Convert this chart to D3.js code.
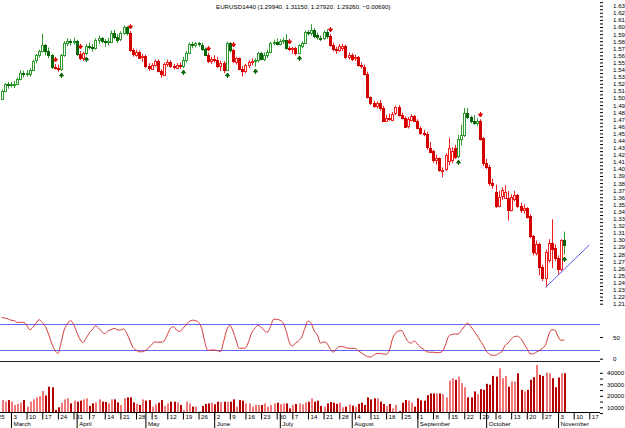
<!DOCTYPE html>
<meta charset="utf-8">
<title>EURUSD1440</title>
<body style="margin:0;background:#fff;">
<div id="chart"></div>
<script src="https://d3js.org/d3.v7.min.js"></script>
<script>
// daily bars, 27 Feb 2008 .. 5 Nov 2008 (weekdays)
const open = [1.4985,1.5095,1.5190,1.5180,1.5190,1.5195,1.5265,1.5355,1.5345,1.5350,
  1.5400,1.5525,1.5600,1.5660,1.5740,1.5660,1.5600,1.5430,1.5420,1.5400,
  1.5600,1.5770,1.5800,1.5790,1.5800,1.5620,1.5560,1.5630,1.5730,1.5720,
  1.5700,1.5810,1.5840,1.5800,1.5780,1.5800,1.5920,1.5860,1.5820,1.5910,
  1.6000,1.5910,1.5670,1.5610,1.5650,1.5570,1.5590,1.5450,1.5420,1.5470,
  1.5520,1.5375,1.5330,1.5480,1.5510,1.5450,1.5430,1.5470,1.5450,1.5540,
  1.5640,1.5760,1.5740,1.5770,1.5750,1.5690,1.5610,1.5520,1.5550,1.5530,
  1.5450,1.5490,1.5390,1.5770,1.5670,1.5510,1.5560,1.5410,1.5380,1.5460,
  1.5500,1.5520,1.5530,1.5630,1.5550,1.5610,1.5650,1.5770,1.5790,1.5760,
  1.5800,1.5810,1.5700,1.5680,1.5700,1.5630,1.5740,1.5780,1.5930,1.5920,
  1.5960,1.5880,1.5850,1.5840,1.5930,1.5870,1.5740,1.5690,1.5670,1.5700,
  1.5730,1.5570,1.5600,1.5550,1.5570,1.5460,1.5440,1.5340,1.5010,1.4930,
  1.4890,1.4930,1.4860,1.4680,1.4720,1.4700,1.4780,1.4870,1.4760,1.4720,
  1.4600,1.4700,1.4750,1.4680,1.4580,1.4510,1.4490,1.4300,1.4250,1.4120,
  1.4150,1.3980,1.3990,1.4100,1.4120,1.4300,1.4180,1.4420,1.4480,1.4790,
  1.4730,1.4680,1.4650,1.4680,1.4430,1.4080,1.4030,1.3800,1.3680,1.3480,
  1.3610,1.3600,1.3590,1.3420,1.3580,1.3630,1.3480,1.3420,1.3450,1.3330,
  1.3050,1.2820,1.2940,1.2620,1.2470,1.2720,1.2950,1.2880,1.2740,1.2580,
  1.2994];
const high = [1.5118,1.5210,1.5225,1.5225,1.5240,1.5290,1.5390,1.5385,1.5390,1.5420,
  1.5540,1.5620,1.5680,1.5905,1.5760,1.5710,1.5620,1.5480,1.5470,1.5620,
  1.5800,1.5840,1.5830,1.5850,1.5820,1.5660,1.5650,1.5760,1.5780,1.5760,
  1.5840,1.5880,1.5860,1.5830,1.5850,1.5950,1.5960,1.5900,1.5940,1.6020,
  1.6010,1.5945,1.5700,1.5680,1.5670,1.5620,1.5610,1.5490,1.5490,1.5540,
  1.5540,1.5405,1.5500,1.5540,1.5530,1.5480,1.5490,1.5500,1.5580,1.5660,
  1.5780,1.5790,1.5790,1.5790,1.5780,1.5710,1.5640,1.5580,1.5600,1.5580,
  1.5520,1.5520,1.5790,1.5790,1.5690,1.5580,1.5570,1.5450,1.5480,1.5530,
  1.5560,1.5560,1.5650,1.5650,1.5640,1.5680,1.5790,1.5820,1.5840,1.5830,
  1.5850,1.5900,1.5730,1.5720,1.5720,1.5760,1.5800,1.5950,1.5960,1.6038,
  1.5980,1.5920,1.5880,1.5950,1.5970,1.5900,1.5780,1.5720,1.5760,1.5760,
  1.5750,1.5640,1.5630,1.5610,1.5590,1.5500,1.5470,1.5370,1.5020,1.4960,
  1.4950,1.4970,1.4890,1.4760,1.4780,1.4800,1.4890,1.4900,1.4790,1.4740,
  1.4730,1.4770,1.4760,1.4700,1.4600,1.4550,1.4520,1.4380,1.4270,1.4200,
  1.4160,1.4020,1.4220,1.4440,1.4310,1.4340,1.4480,1.4620,1.4860,1.4860,
  1.4750,1.4760,1.4710,1.4700,1.4450,1.4140,1.4060,1.3860,1.3780,1.3690,
  1.3740,1.3770,1.3690,1.3640,1.3690,1.3650,1.3520,1.3500,1.3460,1.3360,
  1.3070,1.2990,1.2960,1.2650,1.2860,1.3010,1.3290,1.2940,1.2780,1.3010,
  1.3115];
const low = [1.4975,1.5080,1.5130,1.5150,1.5140,1.5180,1.5250,1.5290,1.5300,1.5300,
  1.5390,1.5490,1.5570,1.5640,1.5600,1.5560,1.5410,1.5400,1.5370,1.5380,
  1.5580,1.5730,1.5740,1.5750,1.5590,1.5530,1.5520,1.5600,1.5680,1.5650,
  1.5680,1.5760,1.5770,1.5720,1.5740,1.5790,1.5830,1.5780,1.5800,1.5890,
  1.5880,1.5650,1.5580,1.5580,1.5550,1.5510,1.5420,1.5380,1.5400,1.5440,
  1.5360,1.5285,1.5320,1.5440,1.5420,1.5400,1.5420,1.5410,1.5420,1.5500,
  1.5620,1.5700,1.5710,1.5720,1.5660,1.5590,1.5490,1.5480,1.5500,1.5420,
  1.5380,1.5350,1.5380,1.5640,1.5490,1.5470,1.5390,1.5300,1.5350,1.5420,
  1.5460,1.5440,1.5500,1.5530,1.5520,1.5560,1.5630,1.5740,1.5740,1.5740,
  1.5760,1.5680,1.5660,1.5620,1.5600,1.5620,1.5700,1.5760,1.5880,1.5880,
  1.5840,1.5820,1.5800,1.5820,1.5830,1.5720,1.5660,1.5620,1.5650,1.5660,
  1.5550,1.5540,1.5520,1.5520,1.5440,1.5410,1.5320,1.4990,1.4900,1.4860,
  1.4850,1.4820,1.4660,1.4660,1.4680,1.4690,1.4760,1.4740,1.4700,1.4580,
  1.4570,1.4670,1.4660,1.4560,1.4480,1.4460,1.4270,1.4220,1.4090,1.4060,
  1.3960,1.3880,1.3970,1.4050,1.4080,1.4140,1.4150,1.4330,1.4450,1.4700,
  1.4640,1.4620,1.4600,1.4400,1.4040,1.4000,1.3760,1.3720,1.3450,1.3460,
  1.3560,1.3580,1.3270,1.3400,1.3540,1.3450,1.3380,1.3370,1.3300,1.3020,
  1.2780,1.2780,1.2500,1.2420,1.2330,1.2680,1.2600,1.2700,1.2510,1.2560,
  1.2792];
const close = [1.5095,1.5190,1.5180,1.5190,1.5195,1.5265,1.5355,1.5345,1.5350,1.5400,
  1.5525,1.5600,1.5660,1.5740,1.5660,1.5600,1.5430,1.5420,1.5400,1.5600,
  1.5770,1.5800,1.5790,1.5800,1.5620,1.5560,1.5630,1.5730,1.5720,1.5700,
  1.5810,1.5840,1.5800,1.5780,1.5800,1.5920,1.5860,1.5820,1.5910,1.6000,
  1.5910,1.5670,1.5610,1.5650,1.5570,1.5590,1.5450,1.5420,1.5470,1.5520,
  1.5380,1.5330,1.5480,1.5510,1.5450,1.5430,1.5470,1.5450,1.5540,1.5640,
  1.5760,1.5740,1.5770,1.5750,1.5690,1.5610,1.5520,1.5550,1.5530,1.5450,
  1.5490,1.5390,1.5770,1.5670,1.5510,1.5560,1.5410,1.5380,1.5460,1.5500,
  1.5520,1.5530,1.5630,1.5550,1.5610,1.5650,1.5770,1.5790,1.5760,1.5800,
  1.5810,1.5700,1.5680,1.5700,1.5630,1.5740,1.5780,1.5930,1.5920,1.5960,
  1.5880,1.5850,1.5840,1.5930,1.5870,1.5740,1.5690,1.5670,1.5730,1.5730,
  1.5570,1.5600,1.5550,1.5570,1.5460,1.5440,1.5340,1.5010,1.4930,1.4890,
  1.4930,1.4860,1.4680,1.4720,1.4700,1.4780,1.4870,1.4760,1.4720,1.4600,
  1.4700,1.4750,1.4680,1.4580,1.4510,1.4490,1.4300,1.4250,1.4120,1.4150,
  1.3980,1.3990,1.4190,1.4290,1.4250,1.4180,1.4420,1.4480,1.4790,1.4730,
  1.4680,1.4650,1.4680,1.4430,1.4080,1.4030,1.3800,1.3770,1.3480,1.3610,
  1.3700,1.3680,1.3420,1.3600,1.3630,1.3480,1.3420,1.3450,1.3330,1.3050,
  1.2820,1.2940,1.2620,1.2470,1.2830,1.2960,1.2860,1.2740,1.2580,1.2995,
  1.2926];
const volume = [16300,14900,16300,14900,12000,12900,14000,16300,10600,14900,
  16900,18600,19800,24200,20300,27900,27300,7700,10000,14000,
  16900,17800,13400,15800,14900,15800,16900,17800,11200,13400,
  14300,16900,14900,14600,13400,16900,16900,14300,12000,17800,
  18600,18600,14300,12900,12000,16900,15800,16300,10600,12600,
  14000,16300,11200,13400,14900,14900,14300,12000,7700,14900,
  13400,10600,10600,6200,11200,12900,13400,14000,12600,14900,
  14600,14900,14900,14900,16900,10600,16300,15800,13400,13400,
  10600,12000,12000,12000,13400,10600,12000,13400,14000,12900,
  13400,13400,9100,12000,12900,13400,12600,14300,14900,17800,
  14900,15800,11200,10600,13400,14600,14000,13000,14000,10000,
  10600,12600,11400,10600,13000,14000,12000,18600,16900,17800,
  17800,14900,12900,11200,12900,9100,12000,6800,14000,16300,
  15800,14000,10600,17800,16000,15800,20600,22100,22100,22100,
  22100,21500,18600,33300,35300,33900,36700,31000,27500,18600,
  18600,23800,21500,25800,25200,30400,29600,37300,36700,43900,
  35300,37300,27900,32400,32400,39600,25200,23800,25200,33900,
  36200,46800,38200,37300,40200,39600,35300,27500,35900,39600,
  39600];
const stoch = [95,94,92,89,88,84,84,84,78,67,72,82,90,84,74,57,36,20,12,36,
  66,80,88,80,62,46,37,47,59,67,76,71,63,58,64,67,70,67,66,69,
  59,43,26,20,16,16,19,25,32,39,38,38,41,55,70,74,66,63,70,78,
  86,89,88,84,70,39,19,20,20,19,16,39,66,77,64,43,24,24,25,39,
  60,70,77,73,65,61,74,91,91,89,83,65,39,29,36,41,50,70,87,82,
  64,55,36,39,36,24,15,22,28,28,26,24,24,24,19,14,9,5,4,8,
  12,12,11,10,18,45,59,64,65,52,40,36,41,34,26,22,16,15,15,14,
  14,17,32,52,56,57,57,65,74,82,75,65,55,43,32,18,11,8,8,12,
  16,30,36,45,51,52,47,36,24,12,11,15,19,24,32,55,67,66,51,42,
  44];
// trend signals (bar index)
const upSignals = [19, 27, 58, 72, 81, 95, 146, 180];
const downSignals = [17, 25, 41, 66, 74, 92, 105, 153];
// hand drawn trend line: bar index, price
const trendIdx = [174, 188];
const trendPrice = [1.2330, 1.2927];
// axis labels
const priceTicks = d3.range(121, 164).map(v => v / 100);
const stochTicks = [0, 50];
const volTicks = [10000, 20000, 30000, 40000];

const W = 625, H = 428, AX = 600;
const svg = d3.select("#chart").append("svg")
  .attr("width", W).attr("height", H)
  .style("display", "block")
  .style("font-family", "'Liberation Sans', Arial, sans-serif");

// scales
const x = d3.scaleLinear().domain([0, 180]).range([1.6, 564.3]);
const y = d3.scaleLinear().domain([1.21, 1.63]).range([303.7, 5.7]);
const yS = d3.scaleLinear().domain([0, 100]).range([358.7, 315.4]);
const yV = d3.scaleLinear().domain([0, 40000]).range([418.8, 372.8]);
const px = i => Math.round(x(i));

// trend phase for each bar from the signals
const signals = upSignals.map(i => ({i, t: "up"}))
  .concat(downSignals.map(i => ({i, t: "down"})))
  .sort((a, b) => a.i - b.i);
const phase = close.map((c, i) => {
  let p = "up";
  signals.forEach(s => { if (s.i <= i) p = s.t; });
  return p;
});
const col = {
  up: {line: "#2f9a2f", fill: "#0a640a"},
  down: {line: "#f02020", fill: "#d20000"}
};

// title
svg.append("text")
  .attr("x", 216).attr("y", 8.5)
  .attr("font-size", 6.2).attr("fill", "#000")
  .text("EURUSD1440 (" + [open[180], high[180], low[180], close[180], close[180] - close[179]]
    .map(d3.format(".5f")).join(", ") + ")");

// candles
const bars = svg.append("g").selectAll("g").data(close).join("g");
bars.append("line")
  .attr("x1", (d, i) => px(i) + 0.5).attr("x2", (d, i) => px(i) + 0.5)
  .attr("y1", (d, i) => y(high[i])).attr("y2", (d, i) => y(low[i]))
  .attr("stroke", (d, i) => col[phase[i]].line).attr("stroke-width", 1);
bars.append("rect")
  .attr("x", (d, i) => px(i) - 0.5)
  .attr("y", (d, i) => Math.round(y(Math.max(open[i], close[i]))) + 0.5)
  .attr("width", 2)
  .attr("height", (d, i) => Math.max(1, Math.round(y(Math.min(open[i], close[i])) - y(Math.max(open[i], close[i])))))
  .attr("fill", (d, i) => close[i] >= open[i] ? "#fff" : col[phase[i]].fill)
  .attr("stroke", (d, i) => close[i] >= open[i] ? col[phase[i]].line : col[phase[i]].fill)
  .attr("stroke-width", 1);

// signal arrows
const arrow = (cx, tip, dir) =>
  `M${cx},${tip}L${cx - 2},${tip + 3 * dir}L${cx + 2},${tip + 3 * dir}Z M${cx},${tip + 2 * dir}L${cx},${tip + 5 * dir}`;
svg.append("g").selectAll("path").data(upSignals).join("path")
  .attr("d", i => arrow(px(i) + 0.5, Math.round(y(low[i])) + 2, 1))
  .attr("fill", "#0a640a").attr("stroke", "#0a640a").attr("stroke-width", 1);
svg.append("g").selectAll("path").data(downSignals).join("path")
  .attr("d", i => arrow(px(i) + 0.5, Math.round(y(high[i])) - 2, -1))
  .attr("fill", "#e00000").attr("stroke", "#e00000").attr("stroke-width", 1);

// trend line
svg.append("line")
  .attr("x1", x(trendIdx[0])).attr("y1", y(trendPrice[0]))
  .attr("x2", x(trendIdx[1])).attr("y2", y(trendPrice[1]))
  .attr("stroke", "#5a5af0").attr("stroke-width", 1);

// right price axis
svg.append("g").attr("transform", `translate(${AX},0)`)
  .call(d3.axisRight(y).tickValues(priceTicks).tickFormat(d3.format(".2f")).tickSize(3).tickPadding(10));
svg.append("g").attr("transform", `translate(${AX},0)`)
  .call(d3.axisRight(y).tickValues(priceTicks.map(v => v + 0.005)).tickFormat("").tickSize(3));

// stochastic panel
[80, 20].forEach(v => svg.append("line")
  .attr("x1", 0).attr("x2", AX).attr("y1", Math.round(yS(v)) + 0.5).attr("y2", Math.round(yS(v)) + 0.5)
  .attr("stroke", "#6464f0").attr("stroke-width", 1));
svg.append("path").datum(stoch)
  .attr("d", d3.line().x((d, i) => x(i)).y(d => yS(d)).curve(d3.curveMonotoneX))
  .attr("fill", "none").attr("stroke", "#d43a3a").attr("stroke-width", 1);
svg.append("g").attr("transform", `translate(${AX},0)`)
  .call(d3.axisRight(yS).tickValues(stochTicks).tickSize(3).tickPadding(10));
svg.append("line").attr("x1", 0).attr("x2", AX).attr("y1", 361.5).attr("y2", 361.5)
  .attr("stroke", "#222").attr("stroke-width", 1);

// volume panel
svg.append("g").selectAll("rect").data(volume).join("rect")
  .attr("x", (d, i) => px(i))
  .attr("y", d => Math.min(yV(d), 413))
  .attr("width", 2)
  .attr("height", d => Math.max(0, 413 - yV(d)))
  .attr("fill", (d, i) => close[i] >= open[i] ? "#f07878" : "#b40000");
svg.append("g").attr("transform", `translate(${AX},0)`)
  .call(d3.axisRight(yV).tickValues(volTicks).tickFormat(d3.format("d")).tickSize(3).tickPadding(4));
svg.append("g").attr("transform", `translate(${AX},0)`)
  .call(d3.axisRight(yV).tickValues(volTicks.map(v => v - 5000)).tickFormat("").tickSize(3));

// time axis: weekly ticks and month separators
const days = d3.timeDay.range(new Date(2008, 1, 25), new Date(2008, 10, 22))
  .filter(d => d.getDay() > 0 && d.getDay() < 6);
const dayIdx = k => k - 2;
const mondays = days.map((d, k) => ({d, i: dayIdx(k)})).filter(o => o.d.getDay() === 1);
const monthStarts = days.map((d, k) => ({d, i: dayIdx(k)}))
  .filter((o, k) => k > 0 && o.d.getMonth() !== days[k - 1].getMonth());

svg.append("line").attr("x1", 0).attr("x2", AX).attr("y1", 412.5).attr("y2", 412.5)
  .attr("stroke", "#000");
const weekAxis = svg.append("g").attr("transform", "translate(0,412.5)")
  .call(d3.axisBottom(x).tickValues(mondays.map(o => o.i))
    .tickFormat((v, k) => mondays[k].d.getDate()).tickSize(7));
weekAxis.selectAll("text").attr("text-anchor", "start").attr("x", 2).attr("y", 2);
const monthAxis = svg.append("g").attr("transform", "translate(0,412.5)")
  .call(d3.axisBottom(x).tickValues(monthStarts.map(o => o.i))
    .tickFormat((v, k) => d3.timeFormat("%B")(monthStarts[k].d)).tickSize(16));
monthAxis.selectAll("text").attr("text-anchor", "start").attr("x", 2).attr("y", 9.5);

// common axis look
svg.selectAll(".domain").remove();
svg.selectAll(".tick text").attr("font-size", 6.2).attr("font-family", "'Liberation Sans', Arial, sans-serif").attr("fill", "#000");
svg.selectAll(".tick line").attr("stroke", "#000");
</script>
